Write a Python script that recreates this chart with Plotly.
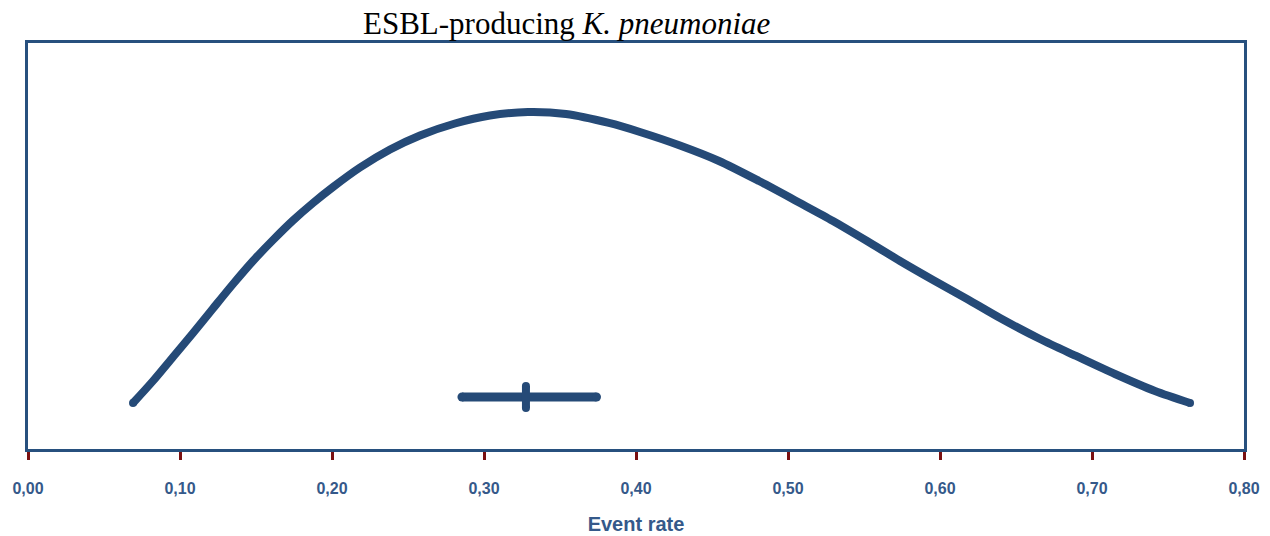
import plotly.graph_objects as go

# Curve (event rate vs. relative density)
curve_x = [0.0691, 0.0822, 0.0954, 0.1086, 0.1217, 0.1349, 0.1480, 0.1612, 0.1743,
           0.1875, 0.2007, 0.2184, 0.2382, 0.2579, 0.2809, 0.3039, 0.3289, 0.3539,
           0.3822, 0.4026, 0.4289, 0.4546, 0.4809, 0.5079, 0.5296, 0.5520, 0.5737,
           0.5954, 0.6178, 0.6395, 0.6658, 0.6895, 0.7151, 0.7414, 0.7645]
curve_y = [0.1133, 0.1675, 0.2266, 0.2857, 0.3461, 0.4064, 0.4631, 0.5148, 0.5628,
           0.6059, 0.6453, 0.6933, 0.7377, 0.7722, 0.8017, 0.8214, 0.8300, 0.8251,
           0.8030, 0.7808, 0.7475, 0.7094, 0.6601, 0.6059, 0.5616, 0.5123, 0.4631,
           0.4163, 0.3695, 0.3227, 0.2709, 0.2291, 0.1847, 0.1429, 0.1133]

# Pooled estimate with confidence interval
ci_low = 0.2855
ci_high = 0.374
point_est = 0.3276
ci_level = 0.128
tick_half = 0.027

tick_vals = [0.0, 0.1, 0.2, 0.3, 0.4, 0.5, 0.6, 0.7, 0.8]
tick_text = ["0,00", "0,10", "0,20", "0,30", "0,40", "0,50", "0,60", "0,70", "0,80"]

blue = "#254a77"
label_blue = "#35598a"
frame = "#27507e"

fig = go.Figure()
fig.add_trace(go.Scatter(x=curve_x, y=curve_y, mode="lines",
                         line=dict(color=blue, width=8, shape="spline", smoothing=0.8),
                         hoverinfo="skip"))
fig.add_trace(go.Scatter(x=[curve_x[0], curve_x[-1]], y=[curve_y[0], curve_y[-1]],
                         mode="markers", marker=dict(color=blue, size=8),
                         hoverinfo="skip"))
fig.add_trace(go.Scatter(x=[ci_low, ci_high], y=[ci_level, ci_level], mode="lines+markers",
                         line=dict(color=blue, width=9), marker=dict(color=blue, size=9),
                         hoverinfo="skip"))
fig.add_trace(go.Scatter(x=[point_est, point_est],
                         y=[ci_level - tick_half, ci_level + tick_half],
                         mode="lines+markers", line=dict(color=blue, width=8),
                         marker=dict(color=blue, size=8), hoverinfo="skip"))

fig.update_layout(
    width=1270, height=536,
    margin=dict(l=28, r=26, t=43, b=87),
    paper_bgcolor="white", plot_bgcolor="white",
    showlegend=False,
    annotations=[dict(
        text="ESBL-producing <i>K. pneumoniae</i>",
        xref="paper", yref="paper", x=0.443, y=1.0, yshift=0,
        xanchor="center", yanchor="bottom", showarrow=False,
        font=dict(family="Liberation Serif, Times New Roman, serif", size=31, color="black"))],
)
fig.update_xaxes(
    range=[0, 0.8], tickvals=tick_vals, ticktext=tick_text,
    automargin=False,
    showline=True, linecolor=frame, linewidth=3, mirror=True,
    ticks="outside", ticklen=8, tickwidth=3, tickcolor="#7a1010",
    ticklabelstandoff=15,
    tickfont=dict(family="Liberation Sans, Arial, sans-serif", size=16, color=label_blue,
                  weight="bold"),
    showgrid=False, zeroline=False,
    title=dict(text="<b>Event rate</b>", standoff=21,
               font=dict(family="Liberation Sans, Arial, sans-serif", size=20, color=label_blue)),
)
fig.update_yaxes(
    range=[0, 1], showticklabels=False, ticks="", automargin=False,
    showline=True, linecolor=frame, linewidth=3, mirror=True,
    showgrid=False, zeroline=False,
)

fig.write_html("out.html")
